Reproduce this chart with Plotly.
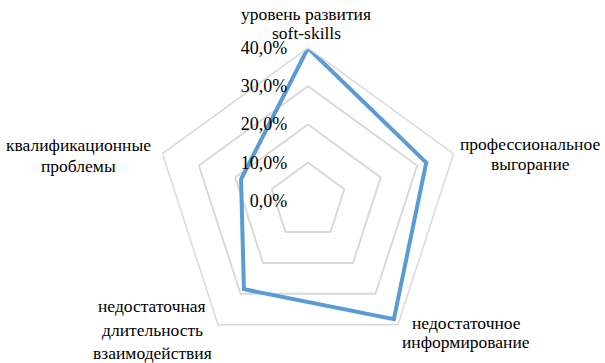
import plotly.graph_objects as go

categories = [
    "уровень развития<br>soft-skills",
    "профессиональное<br>выгорание",
    "недостаточное<br>информирование",
    "недостаточная<br>длительность<br>взаимодействия",
    "квалификационные<br>проблемы",
]
values = [40.0, 32.5, 38.2, 28.5, 18.4]
tick_vals = [0, 10, 20, 30, 40]
tick_text = ["0,0%", "10,0%", "20,0%", "30,0%", "40,0%"]

W, H = 605, 363
cx, cy, R = 308, 201, 153
SERIF = "Liberation Serif"
LABEL_SIZE = 17.5

# label placement (page px): centre x, first line y, line spacing
label_pos = [
    (306, 14, 19),
    (530, 144, 20),
    (466, 323, 19),
    (152, 306, 23.5),
    (78, 145, 21),
]

fig = go.Figure()
fig.add_trace(go.Scatterpolar(
    r=values + values[:1],
    theta=categories + categories[:1],
    mode="lines",
    line=dict(color="#5B9BD5", width=4),
    hoverinfo="skip",
))

annotations = []
for cat, (lx, ly, sp) in zip(categories, label_pos):
    for i, line in enumerate(cat.split("<br>")):
        annotations.append(dict(
            text=line, showarrow=False, xref="paper", yref="paper",
            x=lx / W, y=1 - (ly + i * sp) / H,
            xanchor="center", yanchor="middle",
            font=dict(family=SERIF, size=LABEL_SIZE, color="#000000"),
        ))

fig.update_layout(
    width=W, height=H,
    margin=dict(l=0, r=0, t=0, b=0),
    paper_bgcolor="white",
    plot_bgcolor="white",
    showlegend=False,
    font=dict(family=SERIF, size=16, color="#000000"),
    annotations=annotations,
    polar=dict(
        domain=dict(x=[(cx - R) / W, (cx + R) / W], y=[1 - (cy + R) / H, 1 - (cy - R) / H]),
        gridshape="linear",
        bgcolor="white",
        radialaxis=dict(
            range=[0, 40],
            tickvals=tick_vals,
            ticktext=tick_text,
            angle=90,
            tickangle=90,
            side="counterclockwise",
            showline=False,
            ticks="outside",
            ticklen=14,
            tickcolor="rgba(0,0,0,0)",
            gridcolor="#d9d9d9",
            gridwidth=1.5,
            tickfont=dict(family=SERIF, size=18, color="#000000"),
        ),
        angularaxis=dict(
            direction="clockwise",
            rotation=90,
            showgrid=False,
            showline=True,
            linecolor="#d9d9d9",
            linewidth=1.5,
            ticks="",
            showticklabels=False,
        ),
    ),
)

fig.write_html(
    "out.html",
    config={"displayModeBar": False},
    post_script="document.body.style.margin='0px';",
)
